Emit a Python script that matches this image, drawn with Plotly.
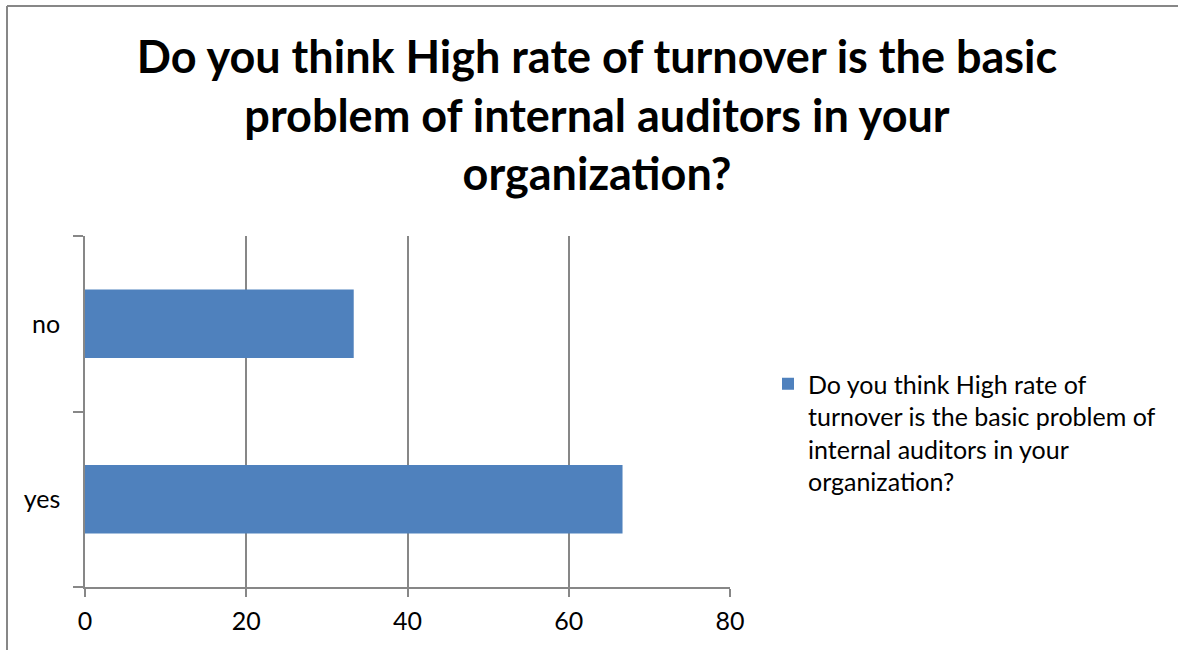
import plotly.graph_objects as go

categories = ["yes", "no"]
values = [66.67, 33.33]
x_ticks = [0, 20, 40, 60, 80]
series_name = "Do you think High rate of<br>turnover is the basic problem of<br>internal auditors in your<br>organization?"
title_text = "Do you think High rate of turnover is the basic<br>problem of internal auditors in your<br>organization?"

W, H = 1178, 650
L, R, T, B = 85, 448, 236, 63
pw, ph = W - L - R, H - T - B
FONT = "Lato, 'Noto Sans', sans-serif"

def px_x(p):
    return (p - L) / pw

def px_y(p):
    return (H - B - p) / ph

fig = go.Figure()
fig.add_trace(go.Bar(
    y=categories, x=values, orientation="h", name=series_name,
    marker=dict(color="#4F81BD", line=dict(width=0)),
    showlegend=True,
))

fig.update_layout(
    width=W, height=H,
    margin=dict(l=L, r=R, t=T, b=B, autoexpand=False),
    paper_bgcolor="white", plot_bgcolor="white",
    font=dict(family=FONT, color="black", size=25),
    title=dict(text=title_text, xref="paper", x=px_x(597), xanchor="center",
               yref="container", y=1 - 73 / H, yanchor="top",
               font=dict(size=45, family=FONT, color="black", weight="bold")),
    bargap=0.61,
    showlegend=True,
    legend=dict(x=px_x(768), xanchor="left", y=px_y(361), yanchor="top",
                font=dict(size=25), bgcolor="rgba(0,0,0,0)", valign="top",
                tracegroupgap=0),
    xaxis=dict(range=[0, 80], tickvals=x_ticks, showgrid=True, gridcolor="#878787", gridwidth=1.5,
               zeroline=False, showline=True, linecolor="#878787", linewidth=1.5,
               ticks="outside", ticklen=8, tickcolor="#878787", tickwidth=1.5,
               tickfont=dict(size=25), fixedrange=True, automargin=False, ticklabelstandoff=3),
    yaxis=dict(categoryorder="array", categoryarray=categories, showgrid=False, zeroline=False,
               showline=True, linecolor="#878787", linewidth=1.5,
               ticks="outside", ticklen=10, tickcolor="#878787", tickwidth=1.5,
               tickson="boundaries", tickfont=dict(size=25), ticklabelstandoff=18,
               automargin=False),
    shapes=[
        dict(type="line", xref="paper", yref="paper", x0=px_x(7), x1=px_x(7), y0=px_y(6), y1=px_y(650),
             line=dict(color="#878787", width=2)),
        dict(type="line", xref="paper", yref="paper", x0=px_x(7), x1=px_x(1178), y0=px_y(6), y1=px_y(6),
             line=dict(color="#878787", width=2)),
    ],
)

fig.write_html("out.html", config={"displayModeBar": False},
               post_script="document.body.style.margin='0';document.body.style.padding='0';document.body.style.overflow='hidden';")
